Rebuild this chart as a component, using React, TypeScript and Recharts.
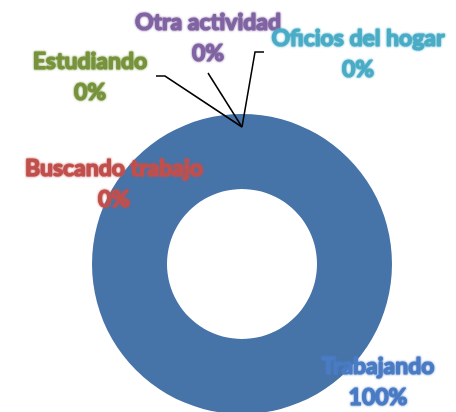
import { PieChart, Pie, Cell } from "recharts"

const categorias = ["Trabajando", "Buscando trabajo", "Estudiando", "Otra actividad", "Oficios del hogar"]
const valores = [100, 0, 0, 0, 0]
const coloresTexto = ["#4a7bc4", "#c0504d", "#77933c", "#8064a2", "#4bacc6"]
const colorAnillo = "#4673a8"

const data = categorias.map((name, i) => ({ name, value: valores[i] }))

// posición manual de las etiquetas (centro del texto, línea base del nombre) y quiebre de la guía
const etiquetas: { x: number; y: number; guia: [number, number][] }[] = [
  { x: 378, y: 374, guia: [] },
  { x: 114, y: 176, guia: [] },
  { x: 90, y: 69, guia: [[156, 76], [165, 76]] },
  { x: 208, y: 30, guia: [[208, 73]] },
  { x: 358, y: 46, guia: [[264, 52], [255, 52]] },
]

const RAD = Math.PI / 180

function renderEtiqueta(props: any) {
  const { cx, cy, midAngle, outerRadius, index, percent } = props
  const et = etiquetas[index]
  const color = coloresTexto[index]
  const r = outerRadius - 13
  const ax = cx + r * Math.cos(-midAngle * RAD)
  const ay = cy + r * Math.sin(-midAngle * RAD)
  const puntos = et.guia.length ? [...et.guia, [ax, ay]] : []
  return (
    <g key={`et-${index}`}>
      {puntos.length > 0 && (
        <polyline points={puntos.map((p) => p.join(",")).join(" ")} fill="none" stroke="#000" strokeWidth={1.5} />
      )}
      <text
        x={et.x}
        y={et.y}
        textAnchor="middle"
        fill={color}
        stroke={color}
        strokeWidth={1.2}
        strokeLinejoin="round"
        fontFamily="Lato, 'Noto Sans', sans-serif"
        fontWeight="bold"
        fontSize={23}
        filter="url(#brillo)"
      >
        <tspan x={et.x}>{categorias[index]}</tspan>
        <tspan x={et.x} dy={31}>{`${Math.round(percent * 100)}%`}</tspan>
      </text>
    </g>
  )
}

export default function App() {
  return (
    <div style={{ position: "absolute", left: 0, top: 0, background: "#fff" }}>
      <PieChart width={456} height={412} margin={{ top: 0, right: 0, bottom: 0, left: 0 }}>
        <defs>
          <filter id="brillo" x="-10%" y="-30%" width="120%" height="160%">
            <feGaussianBlur in="SourceGraphic" stdDeviation="1.3" result="b" />
            <feMerge>
              <feMergeNode in="b" />
              <feMergeNode in="SourceGraphic" />
            </feMerge>
          </filter>
        </defs>
        <Pie
          data={data}
          dataKey="value"
          nameKey="name"
          cx={242}
          cy={264}
          innerRadius={75}
          outerRadius={150}
          startAngle={90}
          endAngle={-270}
          stroke="none"
          label={renderEtiqueta}
          labelLine={false}
          isAnimationActive={false}
        >
          {data.map((d, i) => (
            <Cell key={d.name} fill={i === 0 ? colorAnillo : coloresTexto[i]} />
          ))}
        </Pie>
      </PieChart>
    </div>
  )
}
